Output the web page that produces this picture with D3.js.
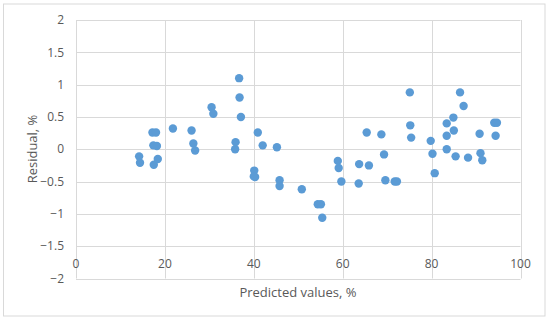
<!DOCTYPE html>
<html>
<head>
<meta charset="utf-8">
<script src="https://cdn.jsdelivr.net/npm/d3@7/dist/d3.min.js"></script>
<style>
  html, body { margin: 0; padding: 0; background: #fff; }
  svg { display: block; }
  text { font-family: "Open Sans", "Liberation Sans", sans-serif; fill: #595959; }
</style>
</head>
<body>
<svg id="chart" width="550" height="321"></svg>
<script>
const predicted = [14.2,14.4,17.2,18.0,17.4,18.2,17.5,18.4,21.8,26.0,26.4,26.8,30.5,30.9,35.8,35.9,36.7,36.8,37.1,
  40.1,40.3,40.0,40.9,42.0,45.2,45.8,45.8,50.8,54.4,55.1,55.4,58.9,59.1,59.7,63.7,63.6,65.4,65.9,68.7,69.3,69.6,
  71.7,72.2,75.1,75.2,75.4,79.8,80.2,80.7,83.4,83.4,83.4,84.9,85.0,85.4,86.4,87.2,88.2,90.8,91.0,91.4,94.1,94.7,94.4];
const residual = [-0.11,-0.21,0.26,0.26,0.06,0.05,-0.24,-0.15,0.32,0.29,0.09,-0.02,0.65,0.55,0.00,0.11,1.10,0.80,0.50,
  -0.33,-0.43,-0.42,0.26,0.06,0.03,-0.48,-0.57,-0.62,-0.85,-0.85,-1.06,-0.18,-0.29,-0.50,-0.23,-0.53,0.26,-0.25,0.23,-0.08,-0.48,
  -0.50,-0.50,0.88,0.37,0.18,0.13,-0.07,-0.37,0.40,0.21,0.00,0.49,0.29,-0.11,0.88,0.67,-0.13,0.24,-0.06,-0.17,0.41,0.41,0.21];
const xTicks = [0, 20, 40, 60, 80, 100];
const yTicks = [-2, -1.5, -1, -0.5, 0, 0.5, 1, 1.5, 2];
const xTitle = "Predicted values, %";
const yTitle = "Residual, %";

const svg = d3.select("#chart");
const x = d3.scaleLinear().domain([0, 100]).range([76, 520.5]);
const y = d3.scaleLinear().domain([-2, 2]).range([278.5, 20]);

// outer border
svg.append("rect").attr("x", 3.5).attr("y", 4).attr("width", 541.5).attr("height", 312)
  .attr("fill", "#fff").attr("stroke", "#d9d9d9").attr("stroke-width", 1);

// gridlines
svg.append("g").selectAll("line").data(yTicks).join("line")
  .attr("x1", x(0)).attr("x2", x(100))
  .attr("y1", d => Math.round(y(d)) + 0.5).attr("y2", d => Math.round(y(d)) + 0.5)
  .attr("stroke", "#d9d9d9").attr("stroke-width", 1);
svg.append("g").selectAll("line").data(xTicks).join("line")
  .attr("x1", d => Math.round(x(d)) + 0.5).attr("x2", d => Math.round(x(d)) + 0.5)
  .attr("y1", y(2)).attr("y2", y(-2))
  .attr("stroke", "#d9d9d9").attr("stroke-width", 1);

// y tick labels
svg.append("g").selectAll("text").data(yTicks).join("text")
  .attr("x", 64).attr("y", d => y(d))
  .attr("dy", "0.35em").attr("text-anchor", "end")
  .style("font-size", "12px")
  .text(d => d3.format("")(d));

// x tick labels (placed between -1.5 and -2 like the reference)
svg.append("g").selectAll("text").data(xTicks).join("text")
  .attr("x", d => x(d)).attr("y", 263.5)
  .attr("dy", "0.35em").attr("text-anchor", "middle")
  .style("font-size", "12px")
  .text(d => d);

// points
svg.append("g").selectAll("circle").data(predicted.map((p, i) => [p, residual[i]])).join("circle")
  .attr("cx", d => x(d[0])).attr("cy", d => y(d[1])).attr("r", 4.2)
  .attr("fill", "#5b9bd5");

// titles
svg.append("text").attr("x", 298).attr("y", 292).attr("dy", "0.35em")
  .attr("text-anchor", "middle").style("font-size", "13px").text(xTitle);
svg.append("text").attr("transform", "translate(32,149) rotate(-90)").attr("dy", "0.35em")
  .attr("text-anchor", "middle").style("font-size", "13px").text(yTitle);
</script>
</body>
</html>
